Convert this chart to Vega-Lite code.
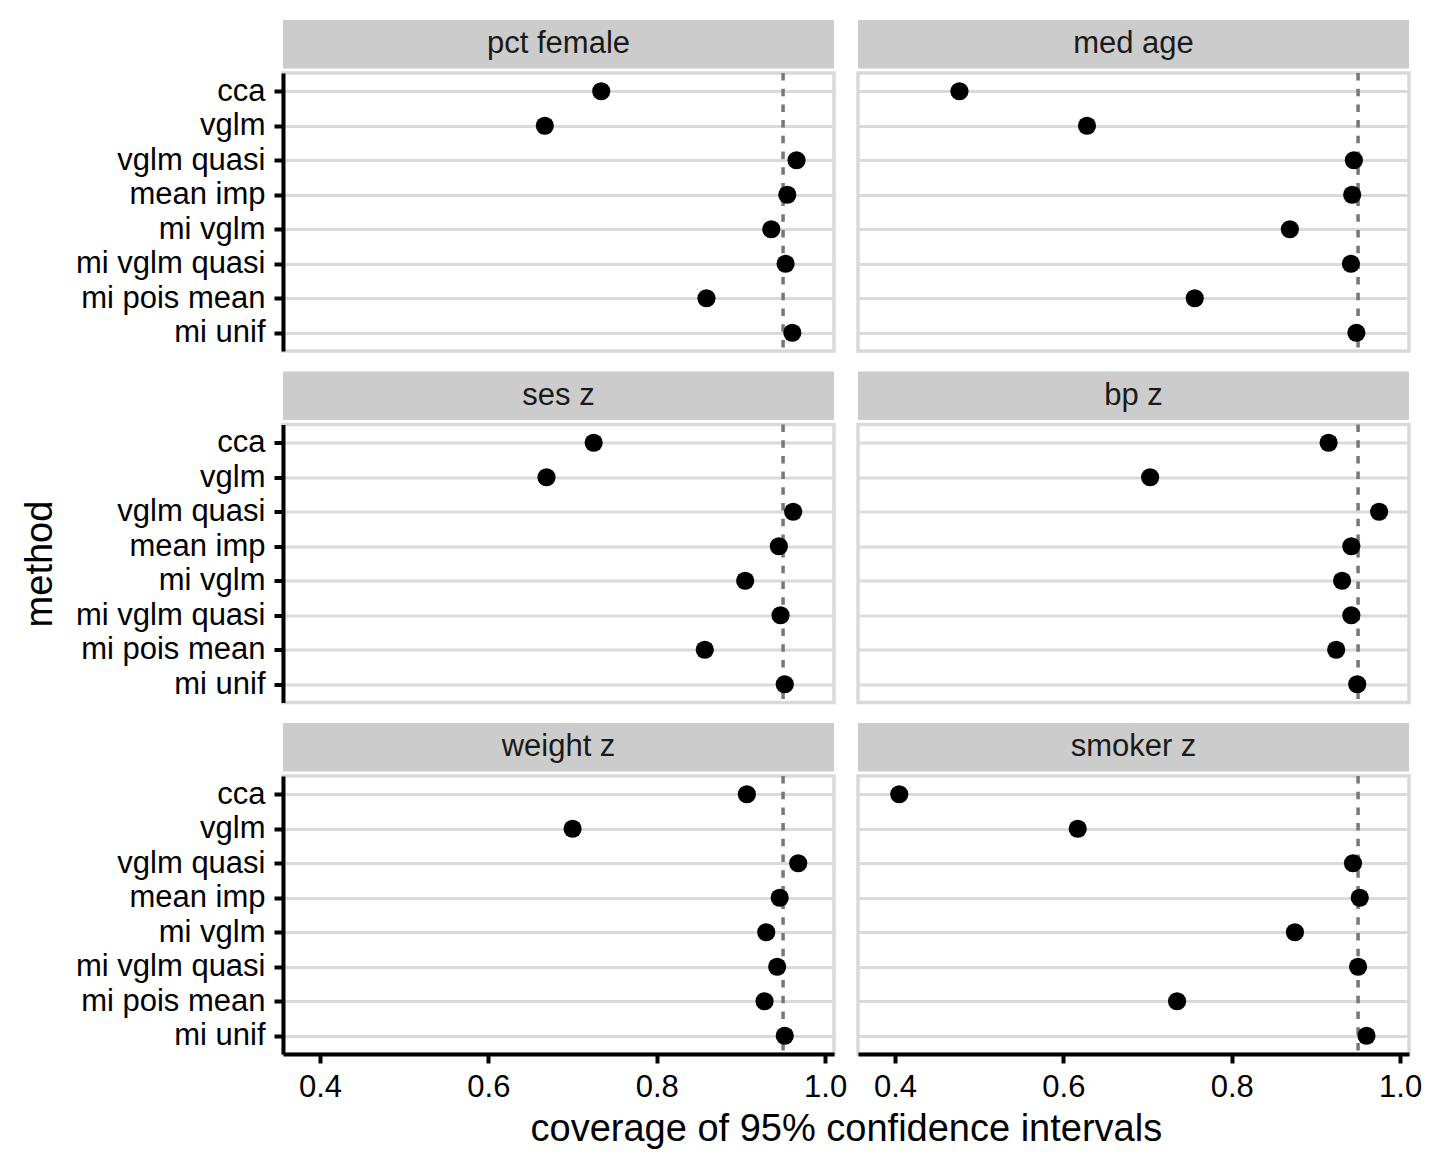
{
  "$schema": "https://vega.github.io/schema/vega-lite/v6.json",
  "background": "white",
  "padding": {"left": 19, "top": 20, "right": 5, "bottom": 5},
  "title": {"text": "coverage of 95% confidence intervals", "orient": "bottom", "anchor": "middle", "dx": 125, "offset": 7, "fontSize": 38, "font": "Liberation Sans", "fontWeight": "normal", "color": "black"},
  "datasets": {
    "cov": [
      {"variable": "pct female", "method": "cca", "coverage": 0.734},
      {"variable": "pct female", "method": "vglm", "coverage": 0.667},
      {"variable": "pct female", "method": "vglm quasi", "coverage": 0.966},
      {"variable": "pct female", "method": "mean imp", "coverage": 0.955},
      {"variable": "pct female", "method": "mi vglm", "coverage": 0.936},
      {"variable": "pct female", "method": "mi vglm quasi", "coverage": 0.953},
      {"variable": "pct female", "method": "mi pois mean", "coverage": 0.859},
      {"variable": "pct female", "method": "mi unif", "coverage": 0.961},
      {"variable": "med age", "method": "cca", "coverage": 0.4765},
      {"variable": "med age", "method": "vglm", "coverage": 0.628},
      {"variable": "med age", "method": "vglm quasi", "coverage": 0.945},
      {"variable": "med age", "method": "mean imp", "coverage": 0.943},
      {"variable": "med age", "method": "mi vglm", "coverage": 0.869},
      {"variable": "med age", "method": "mi vglm quasi", "coverage": 0.9415},
      {"variable": "med age", "method": "mi pois mean", "coverage": 0.756},
      {"variable": "med age", "method": "mi unif", "coverage": 0.948},
      {"variable": "ses z", "method": "cca", "coverage": 0.725},
      {"variable": "ses z", "method": "vglm", "coverage": 0.669},
      {"variable": "ses z", "method": "vglm quasi", "coverage": 0.962},
      {"variable": "ses z", "method": "mean imp", "coverage": 0.945},
      {"variable": "ses z", "method": "mi vglm", "coverage": 0.905},
      {"variable": "ses z", "method": "mi vglm quasi", "coverage": 0.947},
      {"variable": "ses z", "method": "mi pois mean", "coverage": 0.857},
      {"variable": "ses z", "method": "mi unif", "coverage": 0.952},
      {"variable": "bp z", "method": "cca", "coverage": 0.915},
      {"variable": "bp z", "method": "vglm", "coverage": 0.703},
      {"variable": "bp z", "method": "vglm quasi", "coverage": 0.975},
      {"variable": "bp z", "method": "mean imp", "coverage": 0.942},
      {"variable": "bp z", "method": "mi vglm", "coverage": 0.931},
      {"variable": "bp z", "method": "mi vglm quasi", "coverage": 0.942},
      {"variable": "bp z", "method": "mi pois mean", "coverage": 0.924},
      {"variable": "bp z", "method": "mi unif", "coverage": 0.949},
      {"variable": "weight z", "method": "cca", "coverage": 0.907},
      {"variable": "weight z", "method": "vglm", "coverage": 0.700},
      {"variable": "weight z", "method": "vglm quasi", "coverage": 0.968},
      {"variable": "weight z", "method": "mean imp", "coverage": 0.946},
      {"variable": "weight z", "method": "mi vglm", "coverage": 0.930},
      {"variable": "weight z", "method": "mi vglm quasi", "coverage": 0.943},
      {"variable": "weight z", "method": "mi pois mean", "coverage": 0.928},
      {"variable": "weight z", "method": "mi unif", "coverage": 0.952},
      {"variable": "smoker z", "method": "cca", "coverage": 0.405},
      {"variable": "smoker z", "method": "vglm", "coverage": 0.617},
      {"variable": "smoker z", "method": "vglm quasi", "coverage": 0.944},
      {"variable": "smoker z", "method": "mean imp", "coverage": 0.952},
      {"variable": "smoker z", "method": "mi vglm", "coverage": 0.875},
      {"variable": "smoker z", "method": "mi vglm quasi", "coverage": 0.950},
      {"variable": "smoker z", "method": "mi pois mean", "coverage": 0.735},
      {"variable": "smoker z", "method": "mi unif", "coverage": 0.960}
    ]
  },
  "data": {"name": "cov"},
  "spacing": 16.5,
  "vconcat": [
    {
      "spacing": 20,
      "hconcat": [
        {
          "spacing": 0,
          "vconcat": [
            {"width": 551, "height": 48.5, "view": {"fill": "#CCCCCC", "stroke": null}, "data": {"values": [{"label": "pct female"}]}, "mark": {"type": "text", "fontSize": 31, "font": "Liberation Sans", "color": "#1A1A1A", "baseline": "middle", "align": "center"}, "encoding": {"text": {"field": "label", "type": "nominal"}}},
            {"width": 551, "height": 278, "view": {"stroke": "#D9D9D9", "strokeWidth": 3.5},
              "layer": [
                {"data": {"values": [{"ref": 0.95}]}, "mark": {"type": "rule", "color": "#777777", "strokeWidth": 3.5, "strokeDash": [7.5, 8.2]}, "encoding": {"x": {"field": "ref", "type": "quantitative", "scale": {"domain": [0.356, 1.0105], "nice": false, "zero": false}, "axis": null}}},
                {"transform": [{"filter": "datum.variable === 'pct female'"}], "mark": {"type": "point", "filled": true, "color": "black", "size": 330, "opacity": 1}, "encoding": {"x": {"field": "coverage", "type": "quantitative", "scale": {"domain": [0.356, 1.0105], "nice": false, "zero": false}, "axis": null}, "y": {"field": "method", "type": "ordinal", "scale": {"domain": ["cca", "vglm", "vglm quasi", "mean imp", "mi vglm", "mi vglm quasi", "mi pois mean", "mi unif"], "padding": 0.53}, "axis": {"title": null, "grid": true}}}}
              ]}
          ]
        },
        {
          "spacing": 0,
          "vconcat": [
            {"width": 551, "height": 48.5, "view": {"fill": "#CCCCCC", "stroke": null}, "data": {"values": [{"label": "med age"}]}, "mark": {"type": "text", "fontSize": 31, "font": "Liberation Sans", "color": "#1A1A1A", "baseline": "middle", "align": "center"}, "encoding": {"text": {"field": "label", "type": "nominal"}}},
            {"width": 551, "height": 278, "view": {"stroke": "#D9D9D9", "strokeWidth": 3.5},
              "layer": [
                {"data": {"values": [{"ref": 0.95}]}, "mark": {"type": "rule", "color": "#777777", "strokeWidth": 3.5, "strokeDash": [7.5, 8.2]}, "encoding": {"x": {"field": "ref", "type": "quantitative", "scale": {"domain": [0.356, 1.0105], "nice": false, "zero": false}, "axis": null}}},
                {"transform": [{"filter": "datum.variable === 'med age'"}], "mark": {"type": "point", "filled": true, "color": "black", "size": 330, "opacity": 1}, "encoding": {"x": {"field": "coverage", "type": "quantitative", "scale": {"domain": [0.356, 1.0105], "nice": false, "zero": false}, "axis": null}, "y": {"field": "method", "type": "ordinal", "scale": {"domain": ["cca", "vglm", "vglm quasi", "mean imp", "mi vglm", "mi vglm quasi", "mi pois mean", "mi unif"], "padding": 0.53}, "axis": {"title": null, "grid": true, "labels": false, "ticks": false, "domain": false}}}}
              ]}
          ]
        }
      ]
    },
    {
      "spacing": 20,
      "hconcat": [
        {
          "spacing": 0,
          "vconcat": [
            {"width": 551, "height": 48.5, "view": {"fill": "#CCCCCC", "stroke": null}, "data": {"values": [{"label": "ses z"}]}, "mark": {"type": "text", "fontSize": 31, "font": "Liberation Sans", "color": "#1A1A1A", "baseline": "middle", "align": "center"}, "encoding": {"text": {"field": "label", "type": "nominal"}}},
            {"width": 551, "height": 278, "view": {"stroke": "#D9D9D9", "strokeWidth": 3.5},
              "layer": [
                {"data": {"values": [{"ref": 0.95}]}, "mark": {"type": "rule", "color": "#777777", "strokeWidth": 3.5, "strokeDash": [7.5, 8.2]}, "encoding": {"x": {"field": "ref", "type": "quantitative", "scale": {"domain": [0.356, 1.0105], "nice": false, "zero": false}, "axis": null}}},
                {"transform": [{"filter": "datum.variable === 'ses z'"}], "mark": {"type": "point", "filled": true, "color": "black", "size": 330, "opacity": 1}, "encoding": {"x": {"field": "coverage", "type": "quantitative", "scale": {"domain": [0.356, 1.0105], "nice": false, "zero": false}, "axis": null}, "y": {"field": "method", "type": "ordinal", "scale": {"domain": ["cca", "vglm", "vglm quasi", "mean imp", "mi vglm", "mi vglm quasi", "mi pois mean", "mi unif"], "padding": 0.53}, "axis": {"title": "method", "titlePadding": 24, "grid": true}}}}
              ]}
          ]
        },
        {
          "spacing": 0,
          "vconcat": [
            {"width": 551, "height": 48.5, "view": {"fill": "#CCCCCC", "stroke": null}, "data": {"values": [{"label": "bp z"}]}, "mark": {"type": "text", "fontSize": 31, "font": "Liberation Sans", "color": "#1A1A1A", "baseline": "middle", "align": "center"}, "encoding": {"text": {"field": "label", "type": "nominal"}}},
            {"width": 551, "height": 278, "view": {"stroke": "#D9D9D9", "strokeWidth": 3.5},
              "layer": [
                {"data": {"values": [{"ref": 0.95}]}, "mark": {"type": "rule", "color": "#777777", "strokeWidth": 3.5, "strokeDash": [7.5, 8.2]}, "encoding": {"x": {"field": "ref", "type": "quantitative", "scale": {"domain": [0.356, 1.0105], "nice": false, "zero": false}, "axis": null}}},
                {"transform": [{"filter": "datum.variable === 'bp z'"}], "mark": {"type": "point", "filled": true, "color": "black", "size": 330, "opacity": 1}, "encoding": {"x": {"field": "coverage", "type": "quantitative", "scale": {"domain": [0.356, 1.0105], "nice": false, "zero": false}, "axis": null}, "y": {"field": "method", "type": "ordinal", "scale": {"domain": ["cca", "vglm", "vglm quasi", "mean imp", "mi vglm", "mi vglm quasi", "mi pois mean", "mi unif"], "padding": 0.53}, "axis": {"title": null, "grid": true, "labels": false, "ticks": false, "domain": false}}}}
              ]}
          ]
        }
      ]
    },
    {
      "spacing": 7,
      "hconcat": [
        {
          "spacing": 0,
          "vconcat": [
            {"width": 551, "height": 48.5, "view": {"fill": "#CCCCCC", "stroke": null}, "data": {"values": [{"label": "weight z"}]}, "mark": {"type": "text", "fontSize": 31, "font": "Liberation Sans", "color": "#1A1A1A", "baseline": "middle", "align": "center"}, "encoding": {"text": {"field": "label", "type": "nominal"}}},
            {"width": 551, "height": 278, "view": {"stroke": "#D9D9D9", "strokeWidth": 3.5},
              "layer": [
                {"data": {"values": [{"ref": 0.95}]}, "mark": {"type": "rule", "color": "#777777", "strokeWidth": 3.5, "strokeDash": [7.5, 8.2]}, "encoding": {"x": {"field": "ref", "type": "quantitative", "scale": {"domain": [0.356, 1.0105], "nice": false, "zero": false}, "axis": {"title": null, "values": [0.4, 0.6, 0.8, 1.0], "format": ".1f"}}}},
                {"transform": [{"filter": "datum.variable === 'weight z'"}], "mark": {"type": "point", "filled": true, "color": "black", "size": 330, "opacity": 1}, "encoding": {"x": {"field": "coverage", "type": "quantitative", "scale": {"domain": [0.356, 1.0105], "nice": false, "zero": false}, "axis": {"title": null, "values": [0.4, 0.6, 0.8, 1.0], "format": ".1f"}}, "y": {"field": "method", "type": "ordinal", "scale": {"domain": ["cca", "vglm", "vglm quasi", "mean imp", "mi vglm", "mi vglm quasi", "mi pois mean", "mi unif"], "padding": 0.53}, "axis": {"title": null, "grid": true}}}}
              ]}
          ]
        },
        {
          "spacing": 0,
          "vconcat": [
            {"width": 551, "height": 48.5, "view": {"fill": "#CCCCCC", "stroke": null}, "data": {"values": [{"label": "smoker z"}]}, "mark": {"type": "text", "fontSize": 31, "font": "Liberation Sans", "color": "#1A1A1A", "baseline": "middle", "align": "center"}, "encoding": {"text": {"field": "label", "type": "nominal"}}},
            {"width": 551, "height": 278, "view": {"stroke": "#D9D9D9", "strokeWidth": 3.5},
              "layer": [
                {"data": {"values": [{"ref": 0.95}]}, "mark": {"type": "rule", "color": "#777777", "strokeWidth": 3.5, "strokeDash": [7.5, 8.2]}, "encoding": {"x": {"field": "ref", "type": "quantitative", "scale": {"domain": [0.356, 1.0105], "nice": false, "zero": false}, "axis": {"title": null, "values": [0.4, 0.6, 0.8, 1.0], "format": ".1f"}}}},
                {"transform": [{"filter": "datum.variable === 'smoker z'"}], "mark": {"type": "point", "filled": true, "color": "black", "size": 330, "opacity": 1}, "encoding": {"x": {"field": "coverage", "type": "quantitative", "scale": {"domain": [0.356, 1.0105], "nice": false, "zero": false}, "axis": {"title": null, "values": [0.4, 0.6, 0.8, 1.0], "format": ".1f"}}, "y": {"field": "method", "type": "ordinal", "scale": {"domain": ["cca", "vglm", "vglm quasi", "mean imp", "mi vglm", "mi vglm quasi", "mi pois mean", "mi unif"], "padding": 0.53}, "axis": {"title": null, "grid": true, "labels": false, "ticks": false, "domain": false}}}}
              ]}
          ]
        }
      ]
    }
  ],
  "config": {
    "font": "Liberation Sans",
    "axis": {
      "labelFont": "Liberation Sans", "labelFontSize": 31, "labelColor": "black", "labelLimit": 0,
      "domainColor": "black", "domainWidth": 4,
      "tickColor": "black", "tickWidth": 4, "tickSize": 9, "labelPadding": 9,
      "titleFont": "Liberation Sans", "titleFontSize": 38, "titleFontWeight": "normal", "titleColor": "black",
      "gridColor": "#DADADA", "gridWidth": 3
    },
    "axisX": {"grid": false, "labelFlush": false, "labelPadding": 9}
  }
}
